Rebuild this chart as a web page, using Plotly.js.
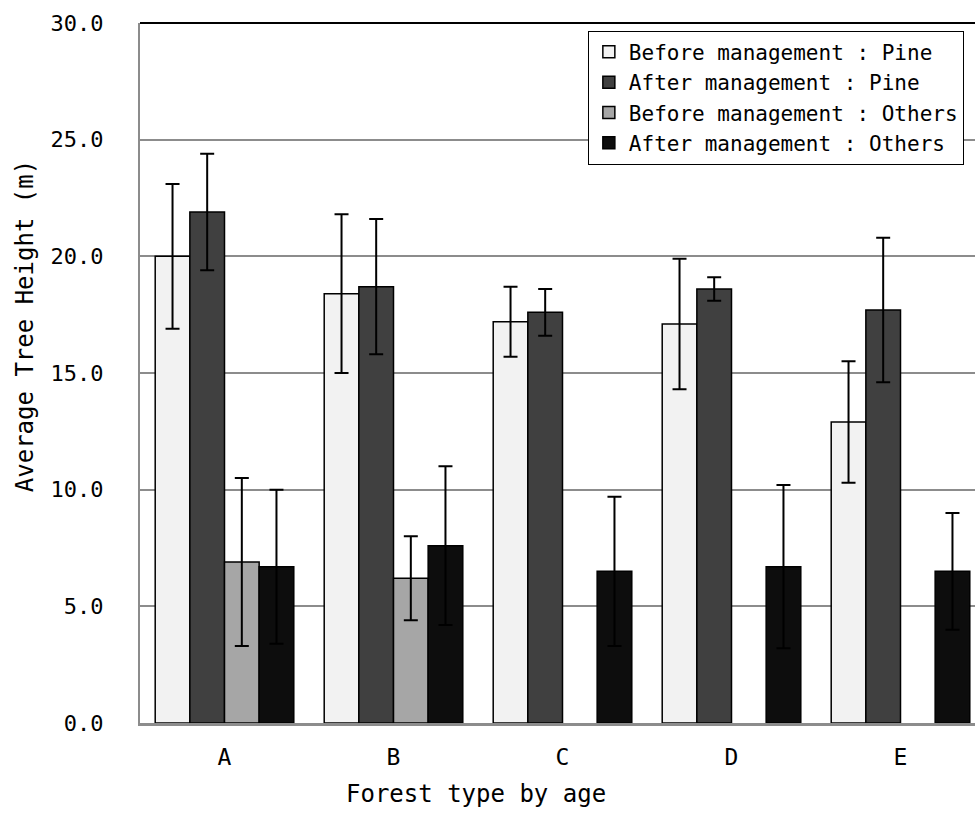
<!DOCTYPE html>
<html>
<head>
<meta charset="utf-8">
<script src="https://cdn.plot.ly/plotly-3.0.1.min.js"></script>
<style>
html, body { margin: 0; padding: 0; overflow: hidden; background: #fff; }
#chart { width: 1000px; height: 814px; }
</style>
</head>
<body>
<div id="chart"></div>
<script>
const categories = ["A", "B", "C", "D", "E"];
const seriesNames = [
  "Before management : Pine",
  "After management : Pine",
  "Before management : Others",
  "After management : Others"
];
const beforePine = [20.0, 18.4, 17.2, 17.1, 12.9];
const beforePineErr = [3.1, 3.4, 1.5, 2.8, 2.6];
const afterPine = [21.9, 18.7, 17.6, 18.6, 17.7];
const afterPineErr = [2.5, 2.9, 1.0, 0.5, 3.1];
const beforeOthers = [6.9, 6.2, null, null, null];
const beforeOthersErr = [3.6, 1.8, null, null, null];
const afterOthers = [6.7, 7.6, 6.5, 6.7, 6.5];
const afterOthersErr = [3.3, 3.4, 3.2, 3.5, 2.5];
const xTitle = "Forest type by age";
const yTitle = "Average Tree Height (m)";

const colors = ["#f2f2f2", "#404040", "#a6a6a6", "#0d0d0d"];
const values = [beforePine, afterPine, beforeOthers, afterOthers];
const errors = [beforePineErr, afterPineErr, beforeOthersErr, afterOthersErr];

const FONT = "DejaVu Sans Mono, Liberation Mono, monospace";

const traces = values.map((v, i) => ({
  type: "bar",
  name: seriesNames[i],
  x: categories,
  y: v,
  marker: { color: colors[i], line: { color: "#000", width: 1.5 } },
  error_y: { type: "data", array: errors[i], visible: true, color: "#000", thickness: 2, width: 7 }
}));

const layout = {
  width: 1000,
  height: 814,
  margin: { l: 140, r: 15, t: 23, b: 91 },
  paper_bgcolor: "#fff",
  plot_bgcolor: "#fff",
  barmode: "group",
  bargap: 0.18,
  bargroupgap: 0,
  showlegend: true,
  legend: {
    x: 0.53, y: 0.989, xanchor: "left", yanchor: "top",
    bgcolor: "#fff", bordercolor: "#000", borderwidth: 1,
    font: { family: FONT, size: 21, color: "#000" },
    tracegroupgap: 0, itemwidth: 30
  },
  xaxis: {
    range: [-0.5, 4.5],
    showgrid: false,
    showline: true, linecolor: "#8c8c8c", linewidth: 3,
    ticks: "",
    ticklabelstandoff: 11,
    tickfont: { family: FONT, size: 23, color: "#000" }
  },
  yaxis: {
    range: [0, 30],
    dtick: 5,
    tickformat: ".1f",
    showgrid: true, gridcolor: "#8c8c8c", gridwidth: 2,
    zeroline: false,
    showline: true, linecolor: "#8c8c8c", linewidth: 2,
    ticks: "",
    ticklabelstandoff: 30,
    tickfont: { family: FONT, size: 22, color: "#000" }
  },
  annotations: [
    { text: xTitle, xref: "paper", yref: "paper", x: 0.3976, y: -0.101, xanchor: "center", yanchor: "middle",
      showarrow: false, font: { family: FONT, size: 24, color: "#000" } },
    { text: yTitle, xref: "paper", yref: "paper", x: -0.136, y: 0.567, xanchor: "center", yanchor: "middle",
      textangle: -90, showarrow: false, font: { family: FONT, size: 24, color: "#000" } }
  ],
  shapes: [
    { type: "line", xref: "paper", yref: "paper", x0: 0, x1: 1, y0: 1, y1: 1, line: { color: "#000", width: 2 } }
  ]
};

Plotly.newPlot("chart", traces, layout, { displayModeBar: false, staticPlot: true });
</script>
</body>
</html>
